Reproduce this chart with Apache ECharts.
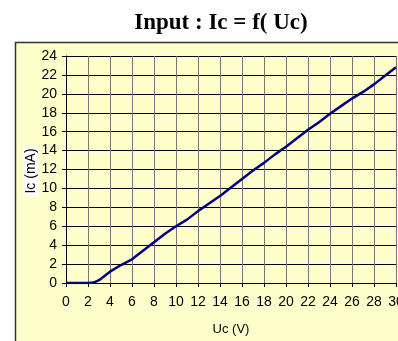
<!DOCTYPE html>
<html>
<head>
<meta charset="utf-8">
<script src="https://cdn.jsdelivr.net/npm/echarts@6/dist/echarts.min.js"></script>
<style>
  html, body { margin: 0; padding: 0; background: #fff; }
  #chart { width: 398px; height: 341px; }
</style>
</head>
<body>
<div id="chart"></div>
<script>
// Uc (V) -> Ic (mA)
const ucValues = [0, 1, 2, 2.5, 3, 4, 5, 6, 7, 8, 9, 10, 11, 12, 13, 14, 15, 16, 17, 18, 19, 20, 21, 22, 23, 24, 25, 26, 27, 28, 29, 30];
const icValues = [0, 0, 0, 0.05, 0.3, 1.2, 1.9, 2.5, 3.4, 4.3, 5.2, 6.0, 6.7, 7.6, 8.4, 9.2, 10.1, 11.0, 11.9, 12.7, 13.6, 14.4, 15.3, 16.2, 17.0, 17.9, 18.7, 19.5, 20.2, 21.0, 21.9, 22.8];
const titleText = "Input : Ic = f( Uc)";
const xName = "Uc (V)";
const yName = "Ic (mA)";

const chart = echarts.init(document.getElementById("chart"), null, { renderer: "canvas" });

chart.setOption({
  animation: false,
  title: {
    text: titleText,
    left: 216,
    top: 7,
    textAlign: "center",
    textStyle: {
      fontFamily: "Liberation Serif",
      fontWeight: "bold",
      fontSize: 23,
      color: "#000",
    },
  },
  graphic: [
    {
      type: "rect",
      z: -10,
      silent: true,
      shape: { x: 15.5, y: 42.5, width: 400, height: 320 },
      style: { fill: "#FFFFCC", stroke: "#333", lineWidth: 1.5 },
    },
    {
      type: "text",
      x: 31,
      y: 171,
      rotation: Math.PI / 2,
      style: {
        text: yName,
        font: "14px Liberation Sans",
        fill: "#000",
        align: "center",
        verticalAlign: "middle",
        backgroundColor: "#fff",
        padding: [1, 2, 0, 2],
      },
    },
  ],
  grid: {
    left: 66,
    top: 56,
    right: 2,
    bottom: 58,
    outerBoundsMode: "none",
    containLabel: false,
  },
  xAxis: {
    type: "value",
    min: 0,
    max: 30,
    interval: 2,
    name: xName,
    nameLocation: "middle",
    nameGap: 40,
    nameTextStyle: { fontFamily: "Liberation Sans", fontSize: 13, color: "#000" },
    axisLine: { show: true, lineStyle: { color: "#000", width: 1 } },
    axisTick: { show: true, length: 4, lineStyle: { color: "#000" } },
    axisLabel: {
      fontFamily: "Liberation Sans",
      fontSize: 14,
      color: "#000",
      margin: 12,
      showMaxLabel: true,
      hideOverlap: false,
    },
    splitLine: { show: true, lineStyle: { color: "#777", width: 1 } },
  },
  yAxis: {
    type: "value",
    min: 0,
    max: 24,
    interval: 2,
    axisLine: { show: true, lineStyle: { color: "#000", width: 1 } },
    axisTick: { show: true, length: 4, lineStyle: { color: "#000" } },
    axisLabel: {
      fontFamily: "Liberation Sans",
      fontSize: 14,
      color: "#000",
      margin: 9,
    },
    splitLine: { show: true, lineStyle: { color: "#000", width: 1 } },
  },
  series: [
    {
      type: "line",
      data: ucValues.map((u, i) => [u, icValues[i]]),
      showSymbol: false,
      smooth: false,
      lineStyle: { color: "#000080", width: 2.5 },
      itemStyle: { color: "#000080" },
    },
  ],
});
</script>
</body>
</html>
